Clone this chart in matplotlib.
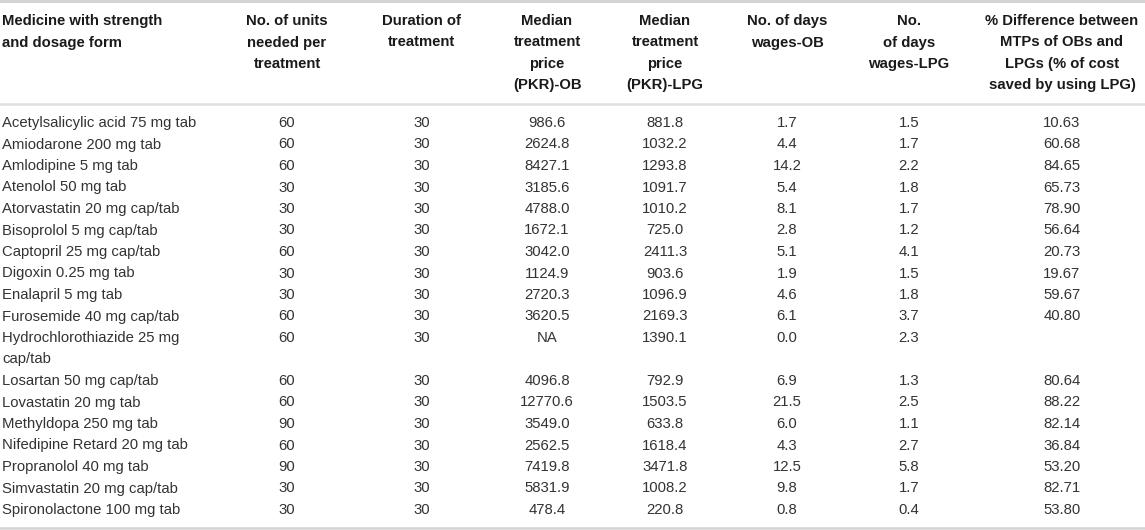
import matplotlib
matplotlib.use("Agg")
import matplotlib.pyplot as plt

plt.rcParams['font.family'] = ['Liberation Sans', 'DejaVu Sans']

# column headers (line breaks as in the source table)
headers = [
    "Medicine with strength\nand dosage form",
    "No. of units\nneeded per\ntreatment",
    "Duration of\ntreatment",
    "Median\ntreatment\nprice\n(PKR)-OB",
    "Median\ntreatment\nprice\n(PKR)-LPG",
    "No. of days\nwages-OB",
    "No.\nof days\nwages-LPG",
    "% Difference between\nMTPs of OBs and\nLPGs (% of cost\nsaved by using LPG)",
]

medicines = [
    "Acetylsalicylic acid 75 mg tab",
    "Amiodarone 200 mg tab",
    "Amlodipine 5 mg tab",
    "Atenolol 50 mg tab",
    "Atorvastatin 20 mg cap/tab",
    "Bisoprolol 5 mg cap/tab",
    "Captopril 25 mg cap/tab",
    "Digoxin 0.25 mg tab",
    "Enalapril 5 mg tab",
    "Furosemide 40 mg cap/tab",
    "Hydrochlorothiazide 25 mg\ncap/tab",
    "Losartan 50 mg cap/tab",
    "Lovastatin 20 mg tab",
    "Methyldopa 250 mg tab",
    "Nifedipine Retard 20 mg tab",
    "Propranolol 40 mg tab",
    "Simvastatin 20 mg cap/tab",
    "Spironolactone 100 mg tab",
]

units = [60, 60, 60, 30, 30, 30, 60, 30, 30, 60, 60, 60, 60, 90, 60, 90, 30, 30]
duration = [30] * 18
mtp_ob = ["986.6", "2624.8", "8427.1", "3185.6", "4788.0", "1672.1", "3042.0",
          "1124.9", "2720.3", "3620.5", "NA", "4096.8", "12770.6", "3549.0",
          "2562.5", "7419.8", "5831.9", "478.4"]
mtp_lpg = ["881.8", "1032.2", "1293.8", "1091.7", "1010.2", "725.0", "2411.3",
           "903.6", "1096.9", "2169.3", "1390.1", "792.9", "1503.5", "633.8",
           "1618.4", "3471.8", "1008.2", "220.8"]
days_ob = ["1.7", "4.4", "14.2", "5.4", "8.1", "2.8", "5.1", "1.9", "4.6", "6.1",
           "0.0", "6.9", "21.5", "6.0", "4.3", "12.5", "9.8", "0.8"]
days_lpg = ["1.5", "1.7", "2.2", "1.8", "1.7", "1.2", "4.1", "1.5", "1.8", "3.7",
            "2.3", "1.3", "2.5", "1.1", "2.7", "5.8", "1.7", "0.4"]
pct_diff = ["10.63", "60.68", "84.65", "65.73", "78.90", "56.64", "20.73",
            "19.67", "59.67", "40.80", "", "80.64", "88.22", "82.14", "36.84",
            "53.20", "82.71", "53.80"]

W, H = 1145, 530
fig = plt.figure(figsize=(W / 100, H / 100), dpi=100)
ax = fig.add_axes([0, 0, 1, 1])
ax.set_xlim(0, W)
ax.set_ylim(H, 0)
ax.axis('off')

col_x = [2, 287, 422, 547, 665, 787, 909, 1062]
line_h = 21.5
head_y0 = 21
body_y0 = 123
fs = 10.7
body_col = '#333333'
head_col = '#1a1a1a'

# header
for i, h in enumerate(headers):
    ha = 'left' if i == 0 else 'center'
    for k, part in enumerate(h.split("\n")):
        ax.text(col_x[i], head_y0 + k * line_h, part, ha=ha, va='center',
                fontsize=fs, fontweight='bold', color=head_col)

# body rows
columns = [units, duration, mtp_ob, mtp_lpg, days_ob, days_lpg, pct_diff]
line = 0
for r, name in enumerate(medicines):
    y = body_y0 + line * line_h
    parts = name.split("\n")
    for k, part in enumerate(parts):
        ax.text(col_x[0], y + k * line_h, part, ha='left', va='center',
                fontsize=fs, color=body_col)
    for c, vals in enumerate(columns):
        ax.text(col_x[c + 1], y, str(vals[r]), ha='center', va='center',
                fontsize=fs, color=body_col)
    line += len(parts)

# rules
ax.axhline(1.2, color='#d4d4d4', lw=2.2)
ax.axhline(104, color='#e0e0e0', lw=1.8)
ax.axhline(528, color='#d4d4d4', lw=1.8)

fig.savefig('out.png', dpi=100, facecolor='white')
